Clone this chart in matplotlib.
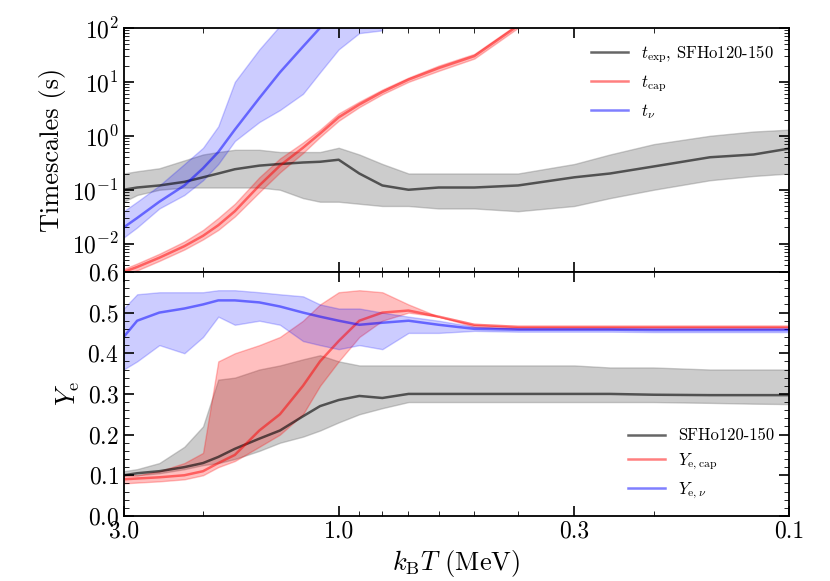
import numpy as np
import matplotlib
matplotlib.use("Agg")
import matplotlib.pyplot as plt
from matplotlib.ticker import NullFormatter, MultipleLocator

plt.rcParams["font.family"] = "cmr10"
plt.rcParams["mathtext.fontset"] = "cm"
plt.rcParams["axes.formatter.use_mathtext"] = True
plt.rcParams["font.size"] = 15

nan = np.nan
# temperature grid (MeV)
kT = [3.0, 2.8, 2.5, 2.2, 2.0, 1.85, 1.7, 1.5, 1.35, 1.2, 1.1, 1.0,
      0.9, 0.8, 0.7, 0.6, 0.5, 0.4, 0.3, 0.25, 0.2, 0.15, 0.12, 0.1]

# top panel: timescales (s)
texp_med = [0.10, 0.11, 0.12, 0.14, 0.17, 0.20, 0.24, 0.28, 0.30, 0.32, 0.33, 0.36,
            0.20, 0.12, 0.10, 0.11, 0.11, 0.12, 0.17, 0.20, 0.27, 0.40, 0.45, 0.58]
texp_hi = [0.20, 0.22, 0.25, 0.35, 0.45, 0.50, 0.55, 0.55, 0.50, 0.50, 0.50, 0.60,
           0.45, 0.30, 0.20, 0.20, 0.20, 0.20, 0.30, 0.45, 0.70, 1.0, 1.2, 1.3]
texp_lo = [0.06, 0.08, 0.10, 0.11, 0.11, 0.11, 0.11, 0.11, 0.10, 0.07, 0.06, 0.06,
           0.055, 0.05, 0.05, 0.045, 0.045, 0.04, 0.05, 0.07, 0.10, 0.15, 0.18, 0.20]

tcap_med = [0.003, 0.0037, 0.0055, 0.009, 0.014, 0.022, 0.04, 0.12, 0.28, 0.6, 1.1, 2.2,
            3.8, 6.5, 11, 18, 30, 110, 400, 700, 1200, 2500, 4000, 5000]
tcap_hi = [0.0034, 0.0043, 0.0065, 0.011, 0.018, 0.03, 0.055, 0.17, 0.38, 0.75, 1.3, 2.6,
           4.3, 7.2, 12, 20, 33, 120, 440, 770, 1300, 2700, 4400, 5500]
tcap_lo = [0.0027, 0.0032, 0.0048, 0.0078, 0.012, 0.018, 0.032, 0.09, 0.21, 0.48, 0.95, 1.9,
           3.4, 5.9, 10, 16, 27, 100, 360, 630, 1100, 2300, 3600, 4500]

tnu_med = [0.02, 0.03, 0.06, 0.12, 0.25, 0.5, 1.3, 5, 15, 45, 100, 250,
           600, 900, nan, nan, nan, nan, nan, nan, nan, nan, nan, nan]
tnu_hi = [0.04, 0.06, 0.12, 0.3, 0.6, 1.5, 10, 40, 110, 250, 400, 600,
          900, 1000, nan, nan, nan, nan, nan, nan, nan, nan, nan, nan]
tnu_lo = [0.013, 0.02, 0.045, 0.08, 0.15, 0.3, 0.8, 1.8, 3.0, 6, 15, 40,
          80, 90, nan, nan, nan, nan, nan, nan, nan, nan, nan, nan]

# bottom panel: electron fraction
ye_med = [0.10, 0.105, 0.11, 0.12, 0.13, 0.145, 0.165, 0.19, 0.21, 0.245, 0.27, 0.285,
          0.295, 0.29, 0.30, 0.30, 0.30, 0.30, 0.30, 0.30, 0.298, 0.297, 0.297, 0.297]
ye_hi = [0.11, 0.115, 0.13, 0.17, 0.22, 0.335, 0.34, 0.36, 0.37, 0.385, 0.395, 0.38,
         0.37, 0.37, 0.37, 0.37, 0.37, 0.37, 0.37, 0.365, 0.365, 0.36, 0.36, 0.36]
ye_lo = [0.10, 0.10, 0.105, 0.115, 0.125, 0.13, 0.14, 0.16, 0.18, 0.195, 0.21, 0.23,
         0.25, 0.265, 0.28, 0.28, 0.28, 0.28, 0.28, 0.28, 0.28, 0.278, 0.276, 0.275]

yecap_med = [0.09, 0.092, 0.095, 0.10, 0.11, 0.13, 0.15, 0.21, 0.25, 0.32, 0.38, 0.43,
             0.48, 0.50, 0.505, 0.49, 0.47, 0.465, 0.465, 0.465, 0.465, 0.465, 0.465, 0.465]
yecap_hi = [0.10, 0.10, 0.11, 0.13, 0.155, 0.38, 0.40, 0.42, 0.44, 0.48, 0.52, 0.55,
            0.555, 0.55, 0.52, 0.49, 0.47, 0.465, 0.465, 0.465, 0.465, 0.465, 0.465, 0.465]
yecap_lo = [0.08, 0.082, 0.085, 0.09, 0.10, 0.12, 0.135, 0.17, 0.20, 0.25, 0.32, 0.38,
            0.44, 0.48, 0.50, 0.49, 0.465, 0.46, 0.46, 0.46, 0.46, 0.46, 0.46, 0.46]

yenu_med = [0.44, 0.48, 0.50, 0.51, 0.52, 0.53, 0.53, 0.525, 0.515, 0.50, 0.49, 0.48,
            0.47, 0.475, 0.48, 0.47, 0.46, 0.458, 0.458, 0.458, 0.457, 0.457, 0.457, 0.457]
yenu_hi = [0.51, 0.545, 0.55, 0.55, 0.55, 0.555, 0.555, 0.55, 0.545, 0.54, 0.52, 0.51,
           0.51, 0.50, 0.49, 0.48, 0.465, 0.462, 0.462, 0.462, 0.462, 0.462, 0.462, 0.462]
yenu_lo = [0.36, 0.38, 0.42, 0.40, 0.44, 0.49, 0.47, 0.48, 0.47, 0.43, 0.42, 0.41,
           0.42, 0.41, 0.45, 0.45, 0.455, 0.453, 0.453, 0.453, 0.452, 0.452, 0.452, 0.452]

fig = plt.figure(figsize=(8.3, 5.81), dpi=100)
ax1 = fig.add_axes([0.149, 0.532, 0.802, 0.420])
ax2 = fig.add_axes([0.149, 0.112, 0.802, 0.420], sharex=ax1)

ax1.fill_between(kT, texp_lo, texp_hi, color="gray", alpha=0.4)
ax1.plot(kT, texp_med, color="k", alpha=0.6, lw=1.8, label=r"$t_{\rm exp}$, SFHo120-150")
ax1.fill_between(kT, tcap_lo, tcap_hi, color="r", alpha=0.25)
ax1.plot(kT, tcap_med, color="r", alpha=0.5, lw=1.8, label=r"$t_{\rm cap}$")
ax1.fill_between(kT, tnu_lo, tnu_hi, color="b", alpha=0.2)
ax1.plot(kT, tnu_med, color="b", alpha=0.5, lw=1.8, label=r"$t_{\nu}$")
ax1.set_yscale("log")
ax1.set_ylim(3e-3, 100)
ax1.set_ylabel("Timescales (s)", fontsize=19)
ax1.legend(loc="upper right", frameon=False, fontsize=12, handlelength=2.2)
plt.setp(ax1.get_xticklabels(), visible=False)

ax2.fill_between(kT, ye_lo, ye_hi, color="gray", alpha=0.4)
ax2.plot(kT, ye_med, color="k", alpha=0.6, lw=1.8, label="SFHo120-150")
ax2.fill_between(kT, yecap_lo, yecap_hi, color="r", alpha=0.25)
ax2.plot(kT, yecap_med, color="r", alpha=0.5, lw=1.8, label=r"$Y_{\rm e,cap}$")
ax2.fill_between(kT, yenu_lo, yenu_hi, color="b", alpha=0.2)
ax2.plot(kT, yenu_med, color="b", alpha=0.5, lw=1.8, label=r"$Y_{\rm e,\nu}$")
ax2.set_ylim(0, 0.6)
ax2.yaxis.set_major_locator(MultipleLocator(0.1))
ax2.yaxis.set_minor_locator(MultipleLocator(0.02))
ax2.set_ylabel(r"$Y_{\rm e}$", fontsize=19)
ax2.legend(loc="lower right", frameon=False, fontsize=12, handlelength=2.2)

ax2.set_xscale("log")
ax2.set_xlim(3.0, 0.1)
ax2.set_xticks([3.0, 1.0, 0.3, 0.1])
ax2.set_xticklabels(["3.0", "1.0", "0.3", "0.1"])
ax2.xaxis.set_minor_formatter(NullFormatter())
ax2.set_xlabel(r"$k_{\rm B}T$ (MeV)", fontsize=19)

for ax in (ax1, ax2):
    ax.tick_params(which="both", direction="in", top=True, right=True, labelsize=17)
    ax.tick_params(which="major", length=7, width=1.2)
    ax.tick_params(which="minor", length=3.5)
    for s in ax.spines.values():
        s.set_linewidth(1.3)

fig.savefig("out.png", dpi=100)
